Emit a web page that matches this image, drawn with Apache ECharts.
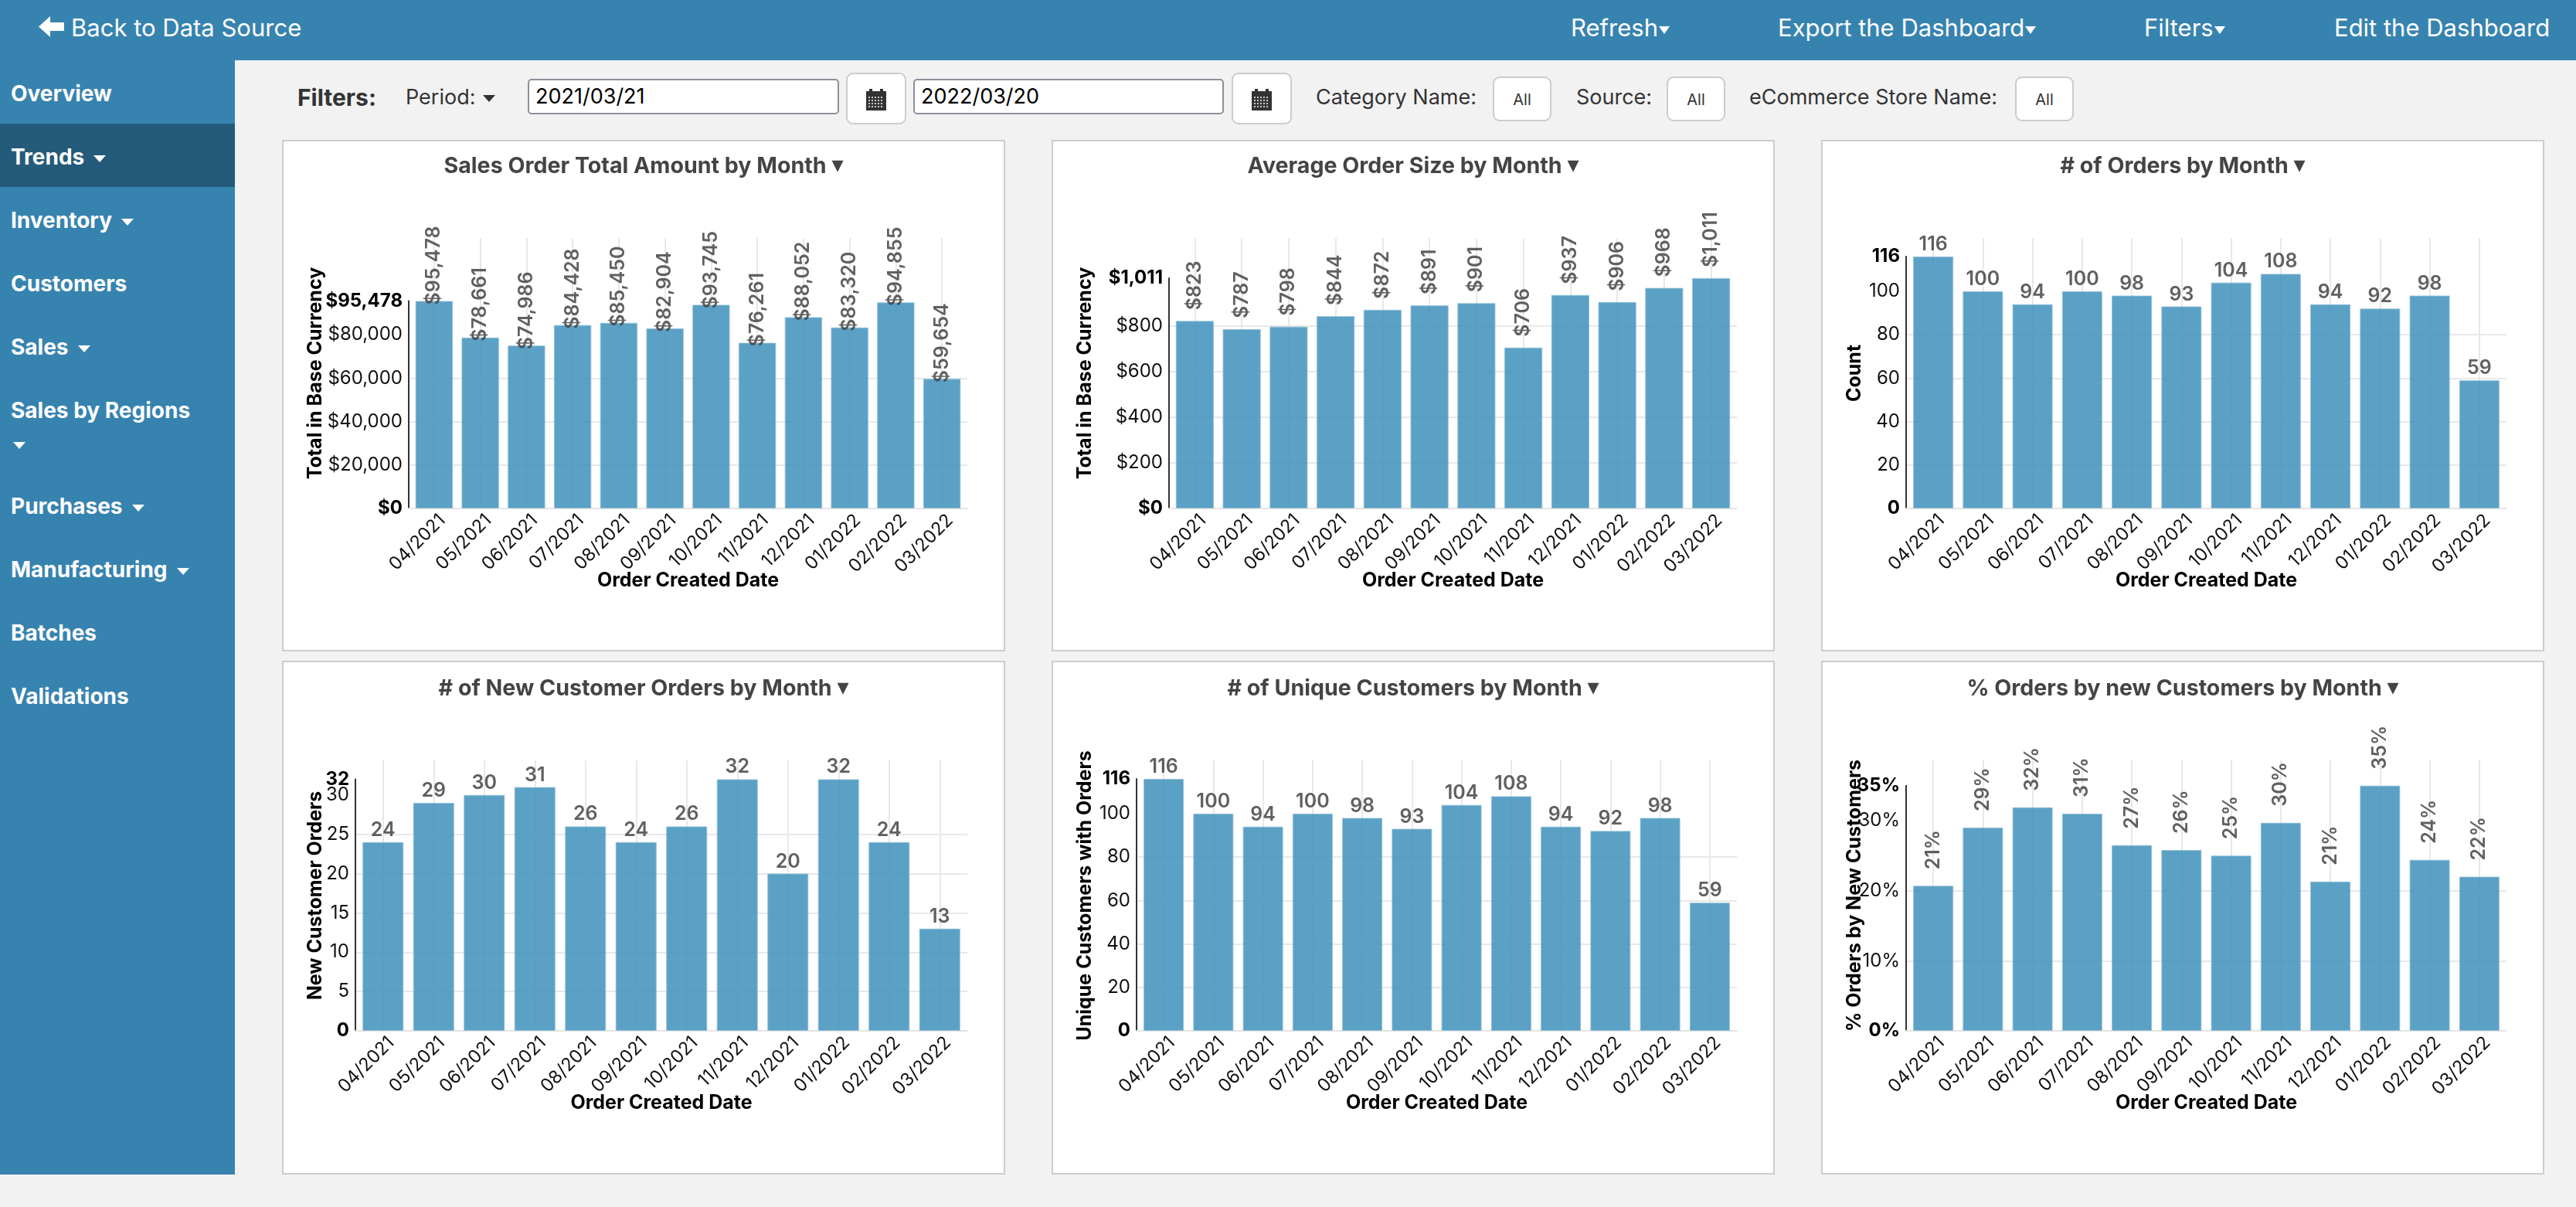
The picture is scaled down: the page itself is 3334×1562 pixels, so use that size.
<!DOCTYPE html>
<html>
<head>
<meta charset="utf-8">
<title>Trends</title>
<script src="https://cdn.jsdelivr.net/npm/echarts@6/dist/echarts.min.js"></script>
<style>
html, body { margin: 0; padding: 0; width: 3334px; height: 1562px; overflow: hidden; background: #f2f2f2; font-family: Inter, sans-serif; }
.abs { position: absolute; white-space: nowrap; }
#topbar { position: absolute; left: 0; top: 0; width: 3334px; height: 78px; background: #3783b0; }
#sidebar { position: absolute; left: 0; top: 78px; width: 304px; height: 1442px; background: #3783b0; }
#active { position: absolute; left: 0; top: 160px; width: 304px; height: 82px; background: #245a7a; }
.top { color: #fff; font-size: 31px; line-height: 40px; top: 16px; }
.side { color: #fff; font-size: 28px; font-weight: 700; line-height: 40px; left: 14px; }
.caret { display: inline-block; width: 0; height: 0; border-left: 8px solid transparent; border-right: 8px solid transparent; border-top: 9px solid currentColor; vertical-align: middle; margin-left: 12px; }
.top .caret { border-left-width: 7px; border-right-width: 7px; border-top-width: 10px; margin-left: 1px; }
.flt { color: #333; font-size: 27px; line-height: 36px; top: 108px; }
.date { position: absolute; box-sizing: border-box; top: 102px; height: 46px; background: #fff; border: 2px solid #8e8e9c; border-radius: 5px; color: #000; font-size: 27px; line-height: 42px; padding-left: 8px; }
.btn { position: absolute; box-sizing: border-box; background: #fff; border: 2px solid #ccc; border-radius: 9px; text-align: center; color: #333; }
.cal { top: 94px; height: 67px; width: 78px; padding-top: 19px; }
.all { top: 99px; height: 58px; width: 76px; font-size: 20px; line-height: 56px; }
.panel { position: absolute; box-sizing: border-box; background: #fff; border: 2px solid #ccc; width: 936px; }
</style>
</head>
<body>
<div id="topbar"></div>
<svg class="abs" style="left:50px;top:21px" width="34" height="27" viewBox="0 0 34 27"><path d="M0 13.5 L15 0 L15 8 L33 8 L33 19 L15 19 L15 27 Z" fill="#fff"/></svg>
<div class="abs top" style="left:92px">Back to Data Source</div>
<div class="abs top" style="left:2033px">Refresh<span class="caret"></span></div>
<div class="abs top" style="left:2301px">Export the Dashboard<span class="caret"></span></div>
<div class="abs top" style="left:2775px">Filters<span class="caret"></span></div>
<div class="abs top" style="left:3021px">Edit the Dashboard</div>

<div id="sidebar"></div>
<div id="active" style="top:160px"></div>
<div class="abs side" style="top:101px">Overview</div>
<div class="abs side" style="top:183px">Trends<span class="caret"></span></div>
<div class="abs side" style="top:265px">Inventory<span class="caret"></span></div>
<div class="abs side" style="top:347px">Customers</div>
<div class="abs side" style="top:429px">Sales<span class="caret"></span></div>
<div class="abs side" style="top:511px">Sales by Regions</div>
<div class="abs side" style="top:554px"><span class="caret" style="margin-left:3px"></span></div>
<div class="abs side" style="top:635px">Purchases<span class="caret"></span></div>
<div class="abs side" style="top:717px">Manufacturing<span class="caret"></span></div>
<div class="abs side" style="top:799px">Batches</div>
<div class="abs side" style="top:881px">Validations</div>

<div class="abs flt" style="left:385px;font-weight:700;font-size:30px">Filters:</div>
<div class="abs flt" style="left:525px">Period:<span class="caret" style="margin-left:10px"></span></div>
<div class="date" style="left:683px;width:403px">2021/03/21</div>
<div class="btn cal" style="left:1095px"><svg width="26" height="28" viewBox="0 0 26 28"><rect x="4" y="0" width="4" height="5" fill="#333"/><rect x="18" y="0" width="4" height="5" fill="#333"/><rect x="0" y="3" width="26" height="25" fill="#333"/><path d="M3 11h20M3 15h20M3 19h20M3 23h20" stroke="#fff" stroke-width="1.5" stroke-dasharray="2 2"/></svg></div>
<div class="date" style="left:1182px;width:402px">2022/03/20</div>
<div class="btn cal" style="left:1594px"><svg width="26" height="28" viewBox="0 0 26 28"><rect x="4" y="0" width="4" height="5" fill="#333"/><rect x="18" y="0" width="4" height="5" fill="#333"/><rect x="0" y="3" width="26" height="25" fill="#333"/><path d="M3 11h20M3 15h20M3 19h20M3 23h20" stroke="#fff" stroke-width="1.5" stroke-dasharray="2 2"/></svg></div>
<div class="abs flt" style="left:1703px">Category Name:</div>
<div class="btn all" style="left:1932px">All</div>
<div class="abs flt" style="left:2040px">Source:</div>
<div class="btn all" style="left:2157px">All</div>
<div class="abs flt" style="left:2264px">eCommerce Store Name:</div>
<div class="btn all" style="left:2608px">All</div>

<div class="panel" id="p0" style="left:365px;top:181px;height:662px"></div>
<div class="panel" id="p1" style="left:1361px;top:181px;height:662px"></div>
<div class="panel" id="p2" style="left:2357px;top:181px;height:662px"></div>
<div class="panel" id="p3" style="left:365px;top:855px;height:665px"></div>
<div class="panel" id="p4" style="left:1361px;top:855px;height:665px"></div>
<div class="panel" id="p5" style="left:2357px;top:855px;height:665px"></div>

<script>
var months = ["04/2021","05/2021","06/2021","07/2021","08/2021","09/2021","10/2021","11/2021","12/2021","01/2022","02/2022","03/2022"];

var salesTotal = [95478,78661,74986,84428,85450,82904,93745,76261,88052,83320,94855,59654];
var avgOrderSize = [823,787,798,844,872,891,901,706,937,906,968,1011];
var orderCount = [116,100,94,100,98,93,104,108,94,92,98,59];
var newCustomerOrders = [24,29,30,31,26,24,26,32,20,32,24,13];
var uniqueCustomers = [116,100,94,100,98,93,104,108,94,92,98,59];
var pctNewCustomers = [20.7,29,31.9,31,26.5,25.8,25,29.7,21.3,35,24.4,22];

var salesTicks = [0,20000,40000,60000,80000];
var avgTicks = [0,200,400,600,800];
var countTicks = [0,20,40,60,80,100];
var newTicks = [0,5,10,15,20,25,30];
var pctTicks = [0,10,20,30];

// the value axes run past the largest bar, room was left there for the labels
var panels = [
  {id:"p0", row:0, title:"Sales Order Total Amount by Month", yName:"Total in Base Currency", data:salesTotal, ticks:salesTicks, lines:salesTicks, top:95478, axisMax:124500, left:162, unit:"$", rot:true, dist:-5},
  {id:"p1", row:0, title:"Average Order Size by Month", yName:"Total in Base Currency", data:avgOrderSize, ticks:avgTicks, lines:[0,200,400,600,800,1000], top:1011, axisMax:1187, left:150, unit:"$", rot:true, dist:14},
  {id:"p2", row:0, title:"# of Orders by Month", yName:"Count", data:orderCount, ticks:countTicks, lines:countTicks, top:116, axisMax:124.5, left:108, unit:"", rot:false, dist:3},
  {id:"p3", row:1, title:"# of New Customer Orders by Month", yName:"New Customer Orders", data:newCustomerOrders, ticks:newTicks, lines:newTicks, top:32, axisMax:34.4, left:93, unit:"", rot:false, dist:3},
  {id:"p4", row:1, title:"# of Unique Customers by Month", yName:"Unique Customers with Orders", data:uniqueCustomers, ticks:countTicks, lines:countTicks, top:116, axisMax:124.5, left:108, unit:"", rot:false, dist:3},
  {id:"p5", row:1, title:"% Orders by new Customers by Month", yName:"% Orders by New Customers", data:pctNewCustomers, ticks:pctTicks, lines:pctTicks, top:35, axisMax:38.6, left:108, unit:"%", rot:true, dist:21}
];

function fmt(p, v) {
  var s = Math.round(v).toLocaleString("en-US");
  if (p.unit == "$") return "$" + s;
  if (p.unit == "%") return s + "%";
  return s;
}

panels.forEach(function (p) {
  var chart = echarts.init(document.getElementById(p.id));
  var plotTop = p.row == 0 ? 125 : 127, plotH = 350, right = 47;
  var axisH = plotH * p.top / p.axisMax;
  var boldLabel = { fontFamily: "Inter", fontWeight: 700, fontSize: 24, color: "#000" };
  var option = {
    animation: false,
    textStyle: { fontFamily: "Inter" },
    title: {
      left: "center",
      top: p.row == 0 ? 12 : 14,
      text: p.title + " {c|▾}",
      textStyle: {
        fontFamily: "Inter", fontWeight: 700, fontSize: 28.6, color: "#444",
        rich: { c: { fontFamily: "DejaVu Sans", fontSize: 30, color: "#444" } }
      }
    },
    grid: [
      { left: p.left + 3, right: right + 3, top: plotTop, height: plotH, outerBoundsMode: "none" },
      { left: p.left, right: right, top: plotTop + plotH - axisH, height: axisH, outerBoundsMode: "none" }
    ],
    xAxis: [
      {
        gridIndex: 0, type: "category", data: months,
        name: "Order Created Date", nameLocation: "middle", nameGap: 81, nameMoveOverlap: false,
        nameTextStyle: { fontFamily: "Inter", fontWeight: 700, fontSize: 25, color: "#000", verticalAlign: "top" },
        axisLine: { show: false }, axisTick: { show: false },
        axisLabel: { rotate: 45, interval: 0, margin: 1, verticalAlign: "top", lineHeight: 30, fontFamily: "Inter", fontSize: 23.5, color: "#111" },
        splitLine: { show: true, alignWithLabel: true, lineStyle: { color: "#e8e8e8", width: 2 } }
      },
      {
        gridIndex: 1, type: "value", min: 0, max: 1,
        axisLine: { show: true, onZero: false, lineStyle: { color: "#e4e4e4", width: 2 } },
        axisTick: { show: false }, axisLabel: { show: false }, splitLine: { show: false }
      }
    ],
    yAxis: [
      {
        // full height axis of the bars, only carries the name and the bold top label
        gridIndex: 0, type: "value", min: 0, max: p.axisMax,
        name: p.yName, nameLocation: "middle", nameGap: p.left + 3 - 53.5, nameMoveOverlap: false,
        nameTextStyle: { fontFamily: "Inter", fontWeight: 700, fontSize: 25, color: "#000" },
        axisLine: { show: false }, axisTick: { show: false }, splitLine: { show: false },
        axisLabel: Object.assign({ customValues: [p.top], margin: 11, formatter: function (v) { return fmt(p, v); } }, boldLabel)
      },
      {
        gridIndex: 1, type: "value", min: 0, max: p.top,
        axisLine: { show: true, onZero: false, lineStyle: { color: "#333", width: 2 } },
        axisTick: { show: false, customValues: p.lines },
        axisLabel: {
          customValues: p.ticks, margin: 8, fontFamily: "Inter", fontSize: 24, color: "#111",
          formatter: function (v) {
            return v == 0 ? "{b|" + fmt(p, v) + "}" : fmt(p, v);
          },
          rich: { b: boldLabel }
        },
        splitLine: { show: true, showMinLine: false, showMaxLine: false, lineStyle: { color: "#e8e8e8", width: 2 } }
      }
    ],
    series: [{
      type: "bar",
      xAxisIndex: 0, yAxisIndex: 0,
      data: p.data,
      barCategoryGap: "19%",
      itemStyle: { color: "#3e90bb", opacity: 0.85, borderColor: "#8fc0d9", borderWidth: 1 },
      label: {
        show: true,
        position: "top",
        distance: p.dist,
        rotate: p.rot ? 90 : 0,
        align: p.rot ? "left" : "center",
        verticalAlign: p.rot ? "middle" : "bottom",
        fontFamily: "Inter", fontWeight: 600, fontSize: 25, color: "#444",
        formatter: function (o) { return fmt(p, o.value); }
      }
    }]
  };
  chart.setOption(option);
});
</script>
</body>
</html>
